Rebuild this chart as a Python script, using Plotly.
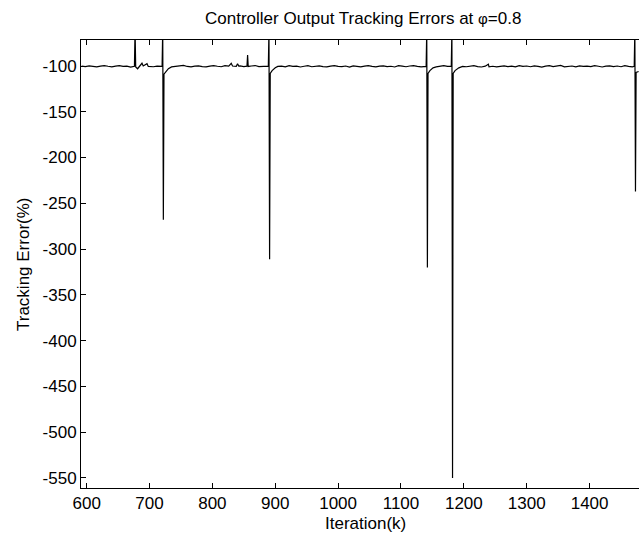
import plotly.graph_objects as go

# ---- data ----
base_start = 592
base_step = 6
base_vals = [
    -100.2, -100.6, -99.8, -100.4, -101.0, -100.1, -99.6, -100.3, -100.9, -100.2,
    -99.7, -100.5, -100.1, -101.2, -100.3, -99.9, -100.6, -100.2, -99.5, -100.8,
    -100.1, -100.4, -101.1, -99.8, -100.2, -100.7, -100.0, -99.4, -100.5, -100.9,
    -100.2, -99.8, -100.6, -101.0, -100.1, -99.7, -100.3, -100.8, -99.6, -100.2,
    -100.9, -100.4, -99.9, -100.6, -101.2, -100.0, -99.5, -100.7, -100.3, -100.1,
    -101.0, -99.8, -100.4, -100.2, -100.9, -99.6, -100.5, -100.1, -101.1, -100.3,
    -99.7, -100.8, -100.2, -99.9, -100.6, -101.0, -100.1, -99.5, -100.4, -100.7,
    -100.0, -101.2, -99.8, -100.3, -100.9, -100.2, -99.6, -100.5, -101.0, -100.1,
    -99.9, -100.6, -100.3, -101.1, -99.7, -100.2, -100.8, -100.0, -99.5, -100.4,
    -100.9, -100.2, -99.8, -100.7, -101.0, -100.1, -99.6, -100.5, -100.3, -101.2,
    -99.9, -100.4, -100.8, -100.0, -99.7, -100.6, -101.1, -100.2, -99.5, -100.3,
    -100.9, -100.1, -99.8, -100.7, -100.2, -101.0, -99.6, -100.4, -100.0, -100.8,
    -99.9, -100.5, -101.2, -100.1, -99.7, -100.6, -100.3, -99.4, -100.9, -100.2,
    -100.0, -101.0, -99.8, -100.5, -100.1, -100.7, -99.6, -100.3, -101.1, -100.2,
    -99.9, -100.6, -100.0, -100.8, -99.7, -100.4, -101.0, -100.2, -100.5,
]

event_iters = [
    676, 677, 678, 681, 688, 690, 696, 698,
    720, 721, 722, 723, 726, 730, 735,
    830, 832, 840, 842, 855, 856, 857,
    889, 890, 891, 892, 895, 900,
    1140, 1141, 1142, 1143, 1146, 1151,
    1180, 1181, 1182, 1183, 1186, 1192,
    1239, 1240,
    1471, 1472, 1473, 1474, 1478,
]
event_vals = [
    -100.3, -60, -101, -103, -97, -100, -97.5, -100.5,
    -100.4, -60, -268, -109, -106, -103, -101,
    -97, -100, -97.5, -100, -100.2, -88, -100.5,
    -100.2, -60, -311, -108, -105, -102,
    -100.5, -60, -320, -108, -105, -102,
    -100.1, -60, -550, -108, -105, -102,
    -98, -101,
    -100.3, -60, -237, -107, -106,
]

x_ticks = [600, 700, 800, 900, 1000, 1100, 1200, 1300, 1400]
y_ticks = [-100, -150, -200, -250, -300, -350, -400, -450, -500, -550]

# ---- build series ----
pts = {}
skip_windows = [(674, 700), (718, 737), (853, 858), (887, 902), (1138, 1153), (1178, 1194), (1469, 1480)]
for i, v in enumerate(base_vals):
    it = base_start + i * base_step
    if any(a <= it <= b for a, b in skip_windows):
        continue
    pts[it] = v
for it, v in zip(event_iters, event_vals):
    pts[it] = v
xs = sorted(pts)
ys = [pts[k] for k in xs]

fig = go.Figure()
fig.add_trace(go.Scatter(x=xs, y=ys, mode="lines",
                         line=dict(color="black", width=1.2), showlegend=False,
                         hoverinfo="skip"))

font = "Liberation Sans, Arial, Helvetica, sans-serif"
fs = 17
axis_common = dict(
    showgrid=False, zeroline=False, showline=True, linecolor="black", linewidth=1,
    ticks="inside", ticklen=5, tickcolor="black",
    tickfont=dict(family=font, size=fs, color="black"),
)
fig.update_xaxes(range=[591, 1478.6], tickvals=x_ticks, ticktext=[str(t) for t in x_ticks],
                 mirror="ticks", **axis_common)
fig.update_yaxes(range=[-561, -71.6], tickvals=y_ticks, ticktext=[str(t) for t in y_ticks],
                 mirror=False, **axis_common)

fig.update_layout(
    width=639, height=533,
    margin=dict(l=81, r=0, t=40, b=45),
    paper_bgcolor="white", plot_bgcolor="white",
    font=dict(family=font, size=fs, color="black"),
    annotations=[
        dict(text="Controller Output Tracking Errors at <span style='font-size:15px'>φ</span>=0.8",
             xref="paper", yref="paper", x=0.505, y=1.0, yshift=10, xanchor="center",
             yanchor="bottom", showarrow=False, font=dict(family=font, size=fs)),
        dict(text="Iteration(k)", xref="paper", yref="paper", x=0.51, y=0, yshift=-24,
             xanchor="center", yanchor="top", showarrow=False, font=dict(family=font, size=fs)),
        dict(text="Tracking Error(%)", xref="paper", yref="paper", x=0, xshift=-58, y=0.5,
             xanchor="center", yanchor="middle", textangle=-90, showarrow=False,
             font=dict(family=font, size=fs)),
    ],
)

fig.write_html("out.html")
